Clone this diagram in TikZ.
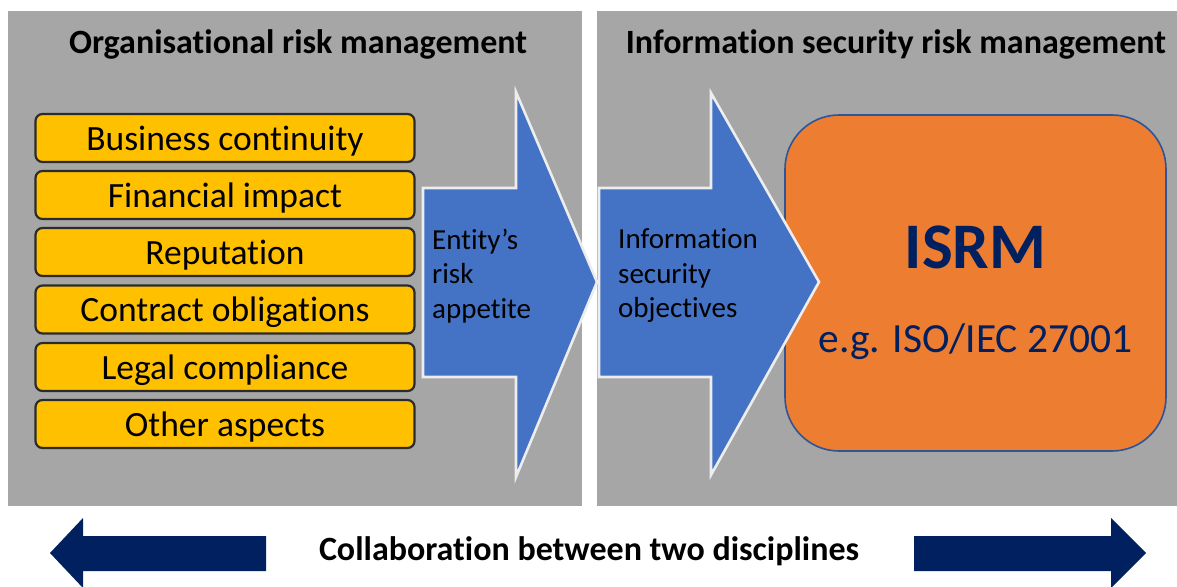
\documentclass[tikz,border=0pt]{standalone}
\usepackage{fontspec}
\setmainfont[Ligatures={NoCommon}]{Carlito}
\definecolor{panelgray}{HTML}{A6A6A6}
\definecolor{boxyellow}{HTML}{FFC000}
\definecolor{boxborder}{HTML}{2B2B2B}
\definecolor{arrowblue}{HTML}{4472C4}
\definecolor{arrowedge}{HTML}{EDEDED}
\definecolor{isorange}{HTML}{ED7D31}
\definecolor{isedge}{HTML}{2F5597}
\definecolor{navy}{HTML}{002060}
\tikzset{
  panel/.style={fill=panelgray, draw=none},
  aspectbox/.style={draw=boxborder, line width=2.2pt, fill=boxyellow, rounded corners=7pt,
     minimum width=379pt, minimum height=48pt, inner sep=0pt},
  aspecttext/.style={anchor=base, inner sep=0pt, font=\fontsize{35.5}{40}\selectfont},
  bigarrow/.style={fill=arrowblue, draw=arrowedge, line width=2.6pt},
  arrowtext/.style={align=left, inner sep=0pt, anchor=north west,
     font=\fontsize{29}{34.5}\selectfont},
  paneltitle/.style={anchor=base, inner sep=0pt, font=\fontsize{34}{40}\selectfont\bfseries},
  isrmbox/.style={fill=isorange, draw=isedge, line width=1.6pt, rounded corners=54pt},
  navyarrow/.style={fill=navy, draw=none},
}
\begin{document}
\begin{tikzpicture}[x=1pt, y=-1pt]
\useasboundingbox (0,0) rectangle (1177,586);
\clip (0,0) rectangle (1177,586);
\fill[white] (0,0) rectangle (1177,586);
% panels
\path[panel] (8,11) rectangle (582,506);
\path[panel] (597,11) rectangle (1177,506);
\node[paneltitle] (t1) at (298,53) {Organisational risk management};
\node[paneltitle] (t2) at (896,53) {Information security risk management};
% aspect boxes
\node[aspectbox] (b1) at (225,138) {};
\node[aspectbox] (b2) at (225,195) {};
\node[aspectbox] (b3) at (225,252) {};
\node[aspectbox] (b4) at (225,309.5) {};
\node[aspectbox] (b5) at (225,367) {};
\node[aspectbox] (b6) at (225,424) {};
\node[aspecttext] (l1) at ([yshift=-12pt]b1.center) {Business continuity};
\node[aspecttext] (l2) at ([yshift=-12pt]b2.center) {Financial impact};
\node[aspecttext] (l3) at ([yshift=-12pt]b3.center) {Reputation};
\node[aspecttext] (l4) at ([yshift=-12pt]b4.center) {Contract obligations};
\node[aspecttext] (l5) at ([yshift=-12pt]b5.center) {Legal compliance};
\node[aspecttext] (l6) at ([yshift=-12pt]b6.center) {Other aspects};
% first big arrow
\draw[bigarrow] (423,188) -- (516,188) -- (516,92) -- (597,282) -- (516,477) -- (516,377) -- (423,377) -- cycle;
\node[arrowtext] (a1) at (432,228.5) {Entity’s\\risk\\appetite};
% ISRM box
\draw[isrmbox] (785,115) rectangle (1166,451);
\node[inner sep=0pt, anchor=base, text=navy, font=\fontsize{65}{70}\selectfont\bfseries] (isrm) at (975.5,268) {ISRM};
\node[inner sep=0pt, anchor=base, text=navy, font=\fontsize{41.5}{48}\selectfont] (iso) at (975.5,352) {e.g. ISO/IEC 27001};
% second big arrow
\draw[bigarrow] (599,188) -- (711,188) -- (711,93) -- (819,282) -- (711,475) -- (711,377) -- (599,377) -- cycle;
\node[arrowtext] (a2) at (618,228.5) {Information\\security\\objectives};
% bottom collaboration arrows
\path[navyarrow] (266,536) -- (83,536) -- (83,518) -- (50,553) -- (83,588) -- (83,571) -- (266,571) -- cycle;
\path[navyarrow] (914,536) -- (1111,536) -- (1111,518) -- (1146,553) -- (1111,588) -- (1111,571) -- (914,571) -- cycle;
\node[paneltitle] (collab) at (589,560) {Collaboration between two disciplines};
\end{tikzpicture}
\end{document}
